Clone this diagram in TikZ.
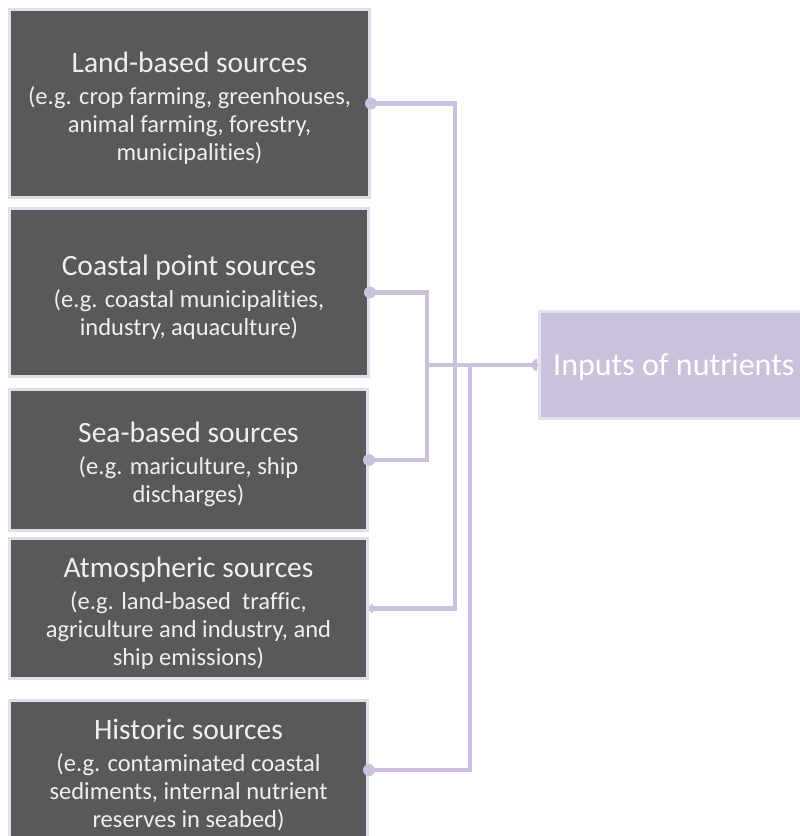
\documentclass[tikz,border=0pt]{standalone}
\usepackage{fontspec}
\setmainfont{Carlito}[Ligatures=NoCommon]
\definecolor{srcfill}{HTML}{595959}
\definecolor{srcedge}{HTML}{E3DCEB}
\definecolor{srctext}{HTML}{EFEFEF}
\definecolor{link}{HTML}{CBC1DC}
\definecolor{sinkfill}{HTML}{CCC1DB}
\definecolor{sinkedge}{HTML}{E6E1EE}
\tikzset{
  source/.style={rectangle, fill=srcfill, draw=srcedge, line width=3pt,
    inner sep=0pt, align=center, text=srctext,
    font=\fontsize{24.5}{28}\selectfont},
  sink/.style={rectangle, fill=sinkfill, draw=sinkedge, line width=2.5pt,
    inner sep=0pt},
  conn/.style={draw=link, line width=4.5pt},
  knob/.style={fill=link},
}
% heading line of a source box; the strut lowers the text block a little
\newcommand{\headline}[1]{{\fontsize{29.5}{35}\selectfont\rule{0pt}{30pt}#1}\\[4pt]}
\begin{document}
\begin{tikzpicture}[x=1pt,y=-1pt]
\useasboundingbox (0,0) rectangle (800,836);
\begin{scope}
\clip (0,0) rectangle (800,836);

% source boxes
\node[source, minimum width=360, minimum height=188] (b1) at (189.5,103.5)
  {\headline{Land-based sources}(e.g. crop farming, greenhouses,\\animal farming, forestry,\\municipalities)};
\node[source, minimum width=359, minimum height=168] (b2) at (189,292.5)
  {\headline{Coastal point sources}(e.g. coastal municipalities,\\industry, aquaculture)};
\node[source, minimum width=358, minimum height=141] (b3) at (188.5,460)
  {\headline{Sea-based sources}(e.g. mariculture, ship\\discharges)};
\node[source, minimum width=358, minimum height=140] (b4) at (188.5,608.5)
  {\headline{Atmospheric sources}(e.g. land-based\ \ traffic,\\agriculture and industry, and\\ship emissions)};
\node[source, minimum width=358, minimum height=140] (b5) at (188.5,770)
  {\headline{Historic sources}(e.g. contaminated coastal\\sediments, internal nutrient\\reserves in seabed)};

% target box
\node[sink, minimum width=279, minimum height=107] (inp) at (679,365) {};
\node[anchor=west, inner sep=0pt, text=white, font=\fontsize{32}{38}\selectfont]
  (inptext) at (553,367) {Inputs of nutrients};

% trunk positions
\coordinate (xa) at (427,0);
\coordinate (xb) at (455,0);
\coordinate (xc) at (470,0);

% connectors
\draw[conn] (b1.east) -| (xb |- b4.east) -- (b4.east);
\draw[conn] (b2.east) -| (xa |- b3.east) -- (b3.east);
\draw[conn] (b5.east) -| (xc |- inp.west);
\draw[conn] (xa |- inp.west) -- (inp.west);

% end knobs
\fill[knob] (b1.east) circle (6);
\fill[knob] (b2.east) circle (6);
\fill[knob] (b3.east) circle (6);
\fill[knob] (b5.east) circle (6);
% half knobs, tucked under the box edges
\begin{scope}
  \clip ([xshift=1.5]b4.east) ++(0,-8) rectangle ++(10,16);
  \fill[knob] (b4.east) circle (5.5);
\end{scope}
\begin{scope}
  \clip ([xshift=-1.2]inp.west) ++(0,-8) rectangle ++(-10,16);
  \fill[knob] (inp.west) circle (6.5);
\end{scope}
\end{scope}
\end{tikzpicture}
\end{document}
